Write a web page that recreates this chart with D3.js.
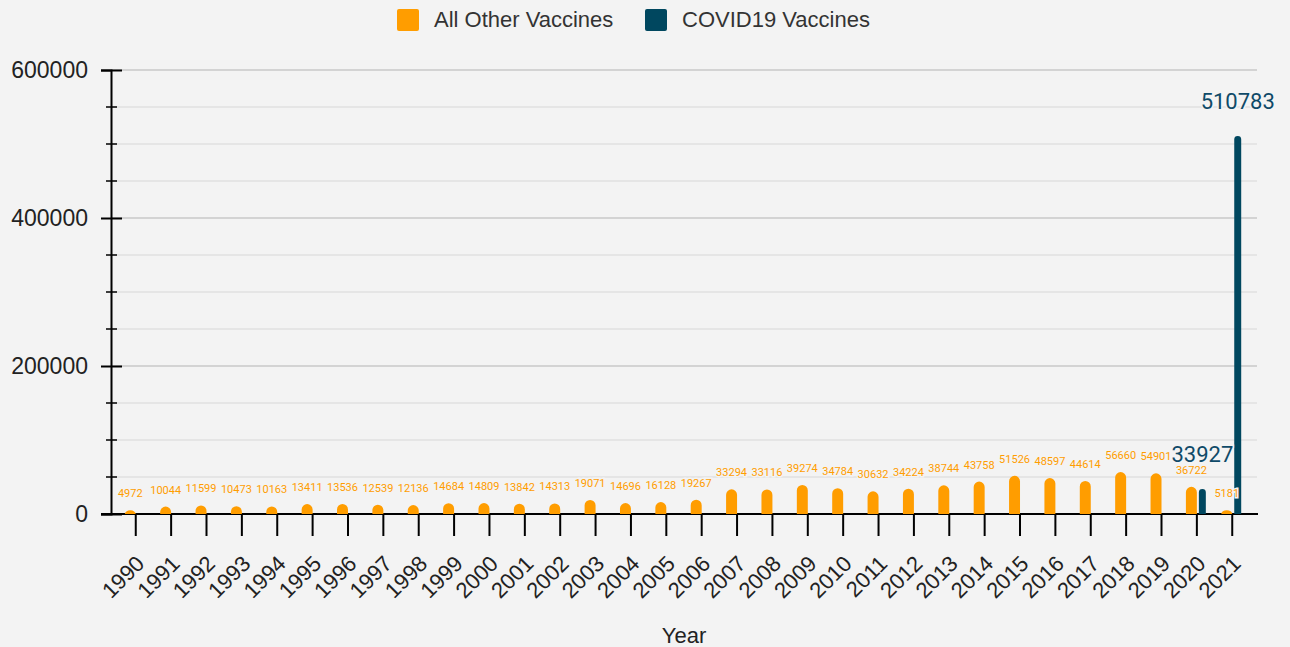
<!DOCTYPE html>
<html>
<head>
<meta charset="utf-8">
<script src="https://cdn.jsdelivr.net/npm/d3@7"></script>
<style>
  html, body { margin: 0; padding: 0; background: #f3f3f3; }
  svg { display: block; }
</style>
</head>
<body>
<div id="chart"></div>
<script>
var years = [1990, 1991, 1992, 1993, 1994, 1995, 1996, 1997, 1998, 1999, 2000, 2001, 2002, 2003, 2004, 2005,
  2006, 2007, 2008, 2009, 2010, 2011, 2012, 2013, 2014, 2015, 2016, 2017, 2018, 2019, 2020, 2021]
var otherVaccines = [4972, 10044, 11599, 10473, 10163, 13411, 13536, 12539, 12136, 14684, 14809, 13842, 14313, 19071, 14696, 16128,
  19267, 33294, 33116, 39274, 34784, 30632, 34224, 38744, 43758, 51526, 48597, 44614, 56660, 54901, 36722, 5181]
var covidVaccines = [0, 0, 0, 0, 0, 0, 0, 0, 0, 0, 0, 0, 0, 0, 0, 0,
  0, 0, 0, 0, 0, 0, 0, 0, 0, 0, 0, 0, 0, 0, 33927, 510783]
var seriesNames = ["All Other Vaccines", "COVID19 Vaccines"]
var yTicks = [0, 200000, 400000, 600000]

var colors = {}
colors.other = "#ff9d00"
colors.covid = "#00475f"
var bg = "#f3f3f3"

document.addEventListener("DOMContentLoaded", function() {
  draw()
});

function topRounded(x0, w, yTop, yBase) {
  var h = yBase - yTop
  if (h <= 0) return ""
  var rx = w / 2
  var ry = Math.min(rx, h)
  return "M" + x0 + "," + yBase +
    "V" + (yTop + ry) +
    "A" + rx + "," + ry + " 0 0 1 " + (x0 + rx) + "," + yTop +
    "A" + rx + "," + ry + " 0 0 1 " + (x0 + w) + "," + (yTop + ry) +
    "V" + yBase + "Z"
}

function draw() {
  var width = 1290, height = 647
  var left = 111, right = 1257, top = 70, bottom = 514

  var svg = d3.select("#chart").append("svg")
    .attr("width", width)
    .attr("height", height)

  svg.append("rect").attr("width", width).attr("height", height).attr("fill", bg)

  var x = d3.scaleBand()
    .domain(years)
    .range([left, right])
    .paddingInner(0.38)
    .paddingOuter(0.39)

  var sub = d3.scaleBand()
    .domain(["other", "covid"])
    .range([0, x.bandwidth()])

  var y = d3.scaleLinear()
    .domain([0, 600000])
    .range([bottom, top])

  // grid
  var minor = d3.range(0, 600001, 50000)
  svg.append("g").selectAll("line")
    .data(minor)
    .enter()
    .append("line")
    .attr("x1", left)
    .attr("x2", right)
    .attr("y1", function(d) { return y(d) })
    .attr("y2", function(d) { return y(d) })
    .attr("stroke", function(d) { return d % 200000 === 0 ? "#c8c8c8" : "#e0e0e0" })
    .attr("stroke-width", 1.5)

  // minor ticks on the y axis
  svg.append("g").selectAll("line")
    .data(minor.filter(function(d) { return d % 200000 !== 0 }))
    .enter()
    .append("line")
    .attr("x1", left - 5)
    .attr("x2", left + 6)
    .attr("y1", function(d) { return y(d) })
    .attr("y2", function(d) { return y(d) })
    .attr("stroke", "#000")
    .attr("stroke-width", 1.5)

  // y axis
  var yAxis = svg.append("g")
    .attr("transform", "translate(" + left + ",0)")
    .call(d3.axisLeft(y).tickValues(yTicks).tickSize(10).tickPadding(13).tickFormat(d3.format("d")))
  yAxis.select(".domain").attr("stroke", "#000").attr("stroke-width", 2)
  yAxis.selectAll(".tick line").attr("stroke", "#000").attr("stroke-width", 2)
  yAxis.selectAll(".tick").append("line")
    .attr("x1", 0).attr("x2", 11)
    .attr("stroke", "#000").attr("stroke-width", 2)
  yAxis.selectAll(".tick text")
    .attr("font-family", "Liberation Sans, Arial, sans-serif")
    .attr("font-size", 23)
    .attr("fill", "#222")

  // x axis
  var xAxis = svg.append("g")
    .attr("transform", "translate(0," + bottom + ")")
    .call(d3.axisBottom(x).tickSize(22).tickSizeOuter(0))
  xAxis.select(".domain").remove()
  xAxis.append("line")
    .attr("x1", left - 10).attr("x2", right + 1)
    .attr("stroke", "#000").attr("stroke-width", 2)
  xAxis.selectAll(".tick line").attr("stroke", "#000").attr("stroke-width", 2)
  xAxis.selectAll(".tick text")
    .attr("font-family", "Liberation Sans, Arial, sans-serif")
    .attr("font-size", 22)
    .attr("fill", "#222")
    .attr("text-anchor", "end")
    .attr("dy", null)
    .attr("y", null)
    .attr("transform", "translate(10,51) rotate(-45)")

  svg.append("text")
    .attr("x", (left + right) / 2)
    .attr("y", 643)
    .attr("text-anchor", "middle")
    .attr("font-family", "Liberation Sans, Arial, sans-serif")
    .attr("font-size", 22)
    .attr("fill", "#222")
    .text("Year")

  // bars
  var rows = years.map(function(yr, i) {
    return { year: yr, other: otherVaccines[i], covid: covidVaccines[i] }
  })

  var groups = svg.append("g").selectAll("g")
    .data(rows)
    .enter()
    .append("g")
    .attr("transform", function(d) { return "translate(" + x(d.year) + ",0)" })

  groups.append("path")
    .attr("fill", colors.other)
    .attr("d", function(d) { return topRounded(sub("other"), sub.bandwidth(), y(d.other), y(0)) })

  groups.filter(function(d) { return d.covid > 0 })
    .append("path")
    .attr("fill", colors.covid)
    .attr("d", function(d) { return topRounded(sub("covid") + 2, sub.bandwidth() - 4, y(d.covid), y(0)) })

  // labels
  var labels = svg.append("g").selectAll("g")
    .data(rows)
    .enter()
    .append("g")
    .attr("transform", function(d) { return "translate(" + x(d.year) + ",0)" })

  labels.append("text")
    .attr("x", sub("other") + sub.bandwidth() / 2)
    .attr("y", function(d) { return y(d.other) - 13 })
    .attr("text-anchor", "middle")
    .attr("font-family", "Roboto, sans-serif")
    .attr("font-size", 11)
    .attr("fill", colors.other)
    .attr("stroke", bg)
    .attr("stroke-width", 3)
    .attr("paint-order", "stroke")
    .text(function(d) { return d.other })

  labels.filter(function(d) { return d.covid > 0 })
    .append("text")
    .attr("x", sub("covid") + sub.bandwidth() / 2)
    .attr("y", function(d) { return y(d.covid) - 27 })
    .attr("text-anchor", "middle")
    .attr("font-family", "Roboto, sans-serif")
    .attr("font-size", 22)
    .attr("fill", "#0f4a68")
    .attr("stroke", bg)
    .attr("stroke-width", 3)
    .attr("paint-order", "stroke")
    .text(function(d) { return d.covid })

  // legend
  var legendX = [397, 645]
  var legendColors = [colors.other, colors.covid]
  var legend = svg.append("g").selectAll("g")
    .data(seriesNames)
    .enter()
    .append("g")
    .attr("transform", function(d, i) { return "translate(" + legendX[i] + ",9)" })

  legend.append("rect")
    .attr("width", 22).attr("height", 22).attr("rx", 2)
    .attr("fill", function(d, i) { return legendColors[i] })

  legend.append("text")
    .attr("x", 37)
    .attr("y", 18)
    .attr("font-family", "Liberation Sans, Arial, sans-serif")
    .attr("font-size", 22)
    .attr("fill", "#333")
    .text(function(d) { return d })
}
</script>
</body>
</html>
